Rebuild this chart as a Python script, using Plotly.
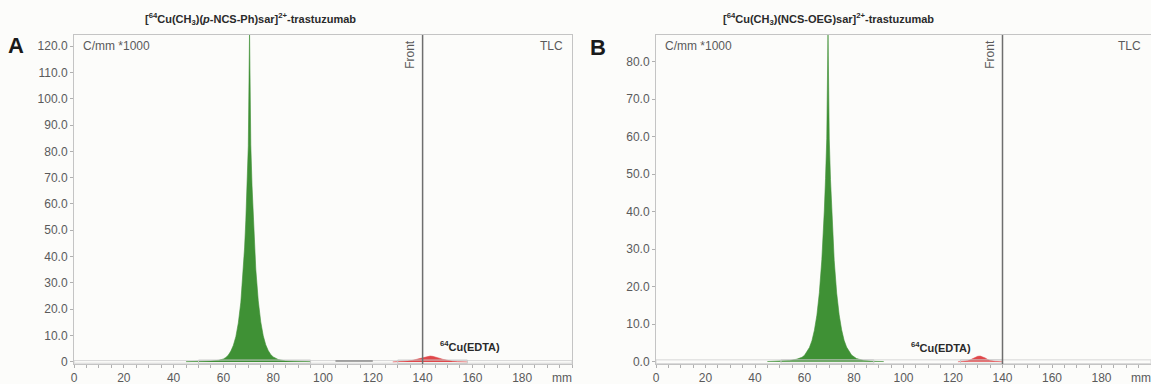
import plotly.graph_objects as go

W, H = 1151, 384

# ---------------- data ----------------
# Panel A: [64Cu(CH3)(p-NCS-Ph)sar]2+-trastuzumab
a_green_x = [45, 50, 55, 58, 60, 61, 62, 63, 64, 65, 66, 67, 68, 68.5, 69, 69.5, 70, 70.5,
             71, 71.5, 72, 72.5, 73, 74, 75, 76, 77, 78, 79, 80, 82, 85, 90, 95]
a_green_y = [0.1, 0.15, 0.3, 0.6, 1.1, 1.7, 2.6, 4.1, 6.3, 9.6, 14.8, 22.7, 34.8, 43.3,
             53.6, 66.3, 82.1, 126.0, 82.5, 66.8, 54.2, 43.8, 35.3, 23.2, 15.2, 9.9, 6.5,
             4.3, 2.8, 1.9, 0.9, 0.35, 0.15, 0.1]
a_red_x = [128, 132, 134, 136, 138, 140, 141, 142, 143, 144, 145, 146, 148, 150, 152, 154, 158]
a_red_y = [0.0, 0.1, 0.3, 0.6, 1.1, 1.6, 1.9, 2.1, 2.2, 2.1, 1.9, 1.6, 1.0, 0.5, 0.2, 0.1, 0.0]

# Panel B: [64Cu(CH3)(NCS-OEG)sar]2+-trastuzumab
b_green_x = [45, 50, 54, 57, 59, 60, 61, 62, 63, 64, 65, 66, 67, 67.5, 68, 68.5, 69, 69.5,
             70, 70.5, 71, 71.5, 72, 73, 74, 75, 76, 77, 78, 79, 81, 84, 88, 92]
b_green_y = [0.05, 0.15, 0.3, 0.7, 1.2, 1.7, 2.6, 3.8, 5.6, 8.4, 12.4, 18.4, 27.2, 33.0,
             40.2, 48.9, 59.6, 88.0, 59.4, 48.6, 40.0, 32.8, 27.0, 18.3, 12.5, 8.5, 5.7,
             3.9, 2.7, 1.8, 0.85, 0.3, 0.1, 0.05]
b_red_x = [122, 125, 126, 127, 128, 129, 130, 131, 132, 133, 134, 135, 137, 140]
b_red_y = [0.0, 0.1, 0.25, 0.5, 0.85, 1.2, 1.45, 1.5, 1.35, 1.0, 0.6, 0.3, 0.1, 0.0]

x_ticks = [0, 20, 40, 60, 80, 100, 120, 140, 160, 180]
a_y_ticks = [0, 10, 20, 30, 40, 50, 60, 70, 80, 90, 100, 110, 120]
a_y_text = ["0", "10.0", "20.0", "30.0", "40.0", "50.0", "60.0", "70.0", "80.0", "90.0",
            "100.0", "110.0", "120.0"]
b_y_ticks = [0, 10, 20, 30, 40, 50, 60, 70, 80]
b_y_text = ["0.0", "10.0", "20.0", "30.0", "40.0", "50.0", "60.0", "70.0", "80.0"]

front_mm = 140
title_a = "<b>[<sup>64</sup>Cu(CH<sub>3</sub>)(<i>p</i>-NCS-Ph)sar]<sup>2+</sup>-trastuzumab</b>"
title_b = "<b>[<sup>64</sup>Cu(CH<sub>3</sub>)(NCS-OEG)sar]<sup>2+</sup>-trastuzumab</b>"
edta_label = "<b><sup>64</sup>Cu(EDTA)</b>"

# ---------------- layout geometry (pixels) ----------------
GREEN = "#3f9135"
RED = "#e0474a"
GREY_TXT = "#5a5a5a"
BG = "#fcfcfa"
FONT = "Liberation Sans, Arial, sans-serif"

ax_l, ax_r = 74, 572
bx_l, bx_r = 656, 1151
p_top, p_bot = 35, 364


def fx(px):
    return px / W


def fy(py):
    return (H - py) / H


fig = go.Figure()
fig.add_trace(go.Scatter(x=a_green_x, y=a_green_y, mode="lines", fill="tozeroy",
                         line=dict(color=GREEN, width=0.6), fillcolor=GREEN,
                         xaxis="x", yaxis="y", showlegend=False, hoverinfo="skip"))
fig.add_trace(go.Scatter(x=a_red_x, y=a_red_y, mode="lines", fill="tozeroy",
                         line=dict(color=RED, width=0.6), fillcolor=RED,
                         xaxis="x", yaxis="y", showlegend=False, hoverinfo="skip"))
fig.add_trace(go.Scatter(x=b_green_x, y=b_green_y, mode="lines", fill="tozeroy",
                         line=dict(color=GREEN, width=0.6), fillcolor=GREEN,
                         xaxis="x2", yaxis="y2", showlegend=False, hoverinfo="skip"))
fig.add_trace(go.Scatter(x=b_red_x, y=b_red_y, mode="lines", fill="tozeroy",
                         line=dict(color=RED, width=0.6), fillcolor=RED,
                         xaxis="x2", yaxis="y2", showlegend=False, hoverinfo="skip"))

axis_common = dict(showgrid=False, zeroline=False, showline=True, linecolor="#c4c4c4",
                   linewidth=1, mirror=True, ticks="outside", ticklen=3,
                   tickcolor="#b0b0b0", automargin=False,
                   tickfont=dict(family=FONT, size=12, color=GREY_TXT))

fig.update_layout(
    width=W, height=H, margin=dict(l=0, r=0, t=0, b=0),
    paper_bgcolor=BG, plot_bgcolor=BG, template="none",
    font=dict(family=FONT, color=GREY_TXT),
    xaxis=dict(domain=[fx(ax_l), fx(ax_r)], range=[0, 200], tickvals=x_ticks,
               anchor="y", minor=dict(dtick=5, ticks="outside", ticklen=3,
                                      tickcolor="#b0b0b0"), **axis_common),
    yaxis=dict(domain=[fy(p_bot), fy(p_top)], range=[-0.8, 124.2], tickvals=a_y_ticks,
               ticktext=a_y_text, anchor="x", **axis_common),
    xaxis2=dict(domain=[fx(bx_l), fx(bx_r)], range=[0, 200], tickvals=x_ticks,
                anchor="y2", minor=dict(dtick=5, ticks="outside", ticklen=3,
                                        tickcolor="#b0b0b0"), **axis_common),
    yaxis2=dict(domain=[fy(p_bot), fy(p_top)], range=[-0.6, 87.1], tickvals=b_y_ticks,
                ticktext=b_y_text, anchor="x2", **axis_common),
)

shapes = []
# baseline bands and ROI boxes (decoration)
for xr, yr in (("x", "y"), ("x2", "y2")):
    shapes.append(dict(type="rect", xref=xr, yref=yr, x0=0, x1=200, y0=-0.5, y1=0.5,
                       line=dict(color="#d6d6d6", width=1), fillcolor="rgba(0,0,0,0)",
                       layer="below"))
for x0, x1 in ((50, 95), (130, 158)):
    shapes.append(dict(type="rect", xref="x", yref="y", x0=x0, x1=x1, y0=-0.6, y1=0.7,
                       line=dict(color="#cacaca", width=1), fillcolor="rgba(0,0,0,0)"))
shapes.append(dict(type="line", xref="x", yref="y", x0=105, x1=120, y0=0.3, y1=0.3,
                   line=dict(color="#8a8a8a", width=1.5)))
for x0, x1 in ((50.5, 88), (123, 140)):
    shapes.append(dict(type="rect", xref="x2", yref="y2", x0=x0, x1=x1, y0=-0.4, y1=0.5,
                       line=dict(color="#cacaca", width=1), fillcolor="rgba(0,0,0,0)"))
# front lines
shapes.append(dict(type="line", xref="x", yref="paper", x0=front_mm, x1=front_mm,
                   y0=fy(p_bot), y1=fy(p_top), line=dict(color="#6e6e6e", width=1.5)))
shapes.append(dict(type="line", xref="x2", yref="paper", x0=front_mm, x1=front_mm,
                   y0=fy(p_bot), y1=fy(p_top), line=dict(color="#6e6e6e", width=1.5)))
fig.update_layout(shapes=shapes)

ann = []
def add(text, x, y, size=12, color=GREY_TXT, xanchor="center", yanchor="middle",
        xref="paper", yref="paper", angle=0, family=FONT):
    ann.append(dict(text=text, x=x, y=y, xref=xref, yref=yref, showarrow=False,
                    xanchor=xanchor, yanchor=yanchor, textangle=angle,
                    font=dict(family=family, size=size, color=color)))

# panel letters
add("<b>A</b>", fx(16), fy(46), size=22, color="#1a1a1a")
add("<b>B</b>", fx(598), fy(47), size=22, color="#1a1a1a")
# titles
add(title_a, fx(250), fy(19), size=11, color="#2a2a2a")
add(title_b, fx(828), fy(19), size=11, color="#2a2a2a")
# inner labels
add("C/mm *1000", fx(81), fy(46), size=12, xanchor="left")
add("C/mm *1000", fx(663), fy(46), size=12, xanchor="left")
add("TLC", fx(565), fy(46), size=12, xanchor="right")
add("TLC", fx(1143), fy(46), size=12, xanchor="right")
add("Front", 138.5, fy(54), xref="x", size=12, angle=-90, xanchor="right")
add("Front", 138.5, fy(54), xref="x2", size=12, angle=-90, xanchor="right")
add("mm", fx(562), fy(378), size=12)
add("mm", fx(1141), fy(378), size=12)
# peak labels
add(edta_label, 159, 6.2, xref="x", yref="y", size=11, color="#2a2a2a")
add(edta_label, 115, 3.9, xref="x2", yref="y2", size=11, color="#2a2a2a")

fig.update_layout(annotations=ann)
fig.write_html("out.html", config={"displayModeBar": False},
               post_script="document.body.style.margin='0';"
                           "document.body.style.background='#fcfcfa';"
                           "document.body.style.overflow='hidden';")
